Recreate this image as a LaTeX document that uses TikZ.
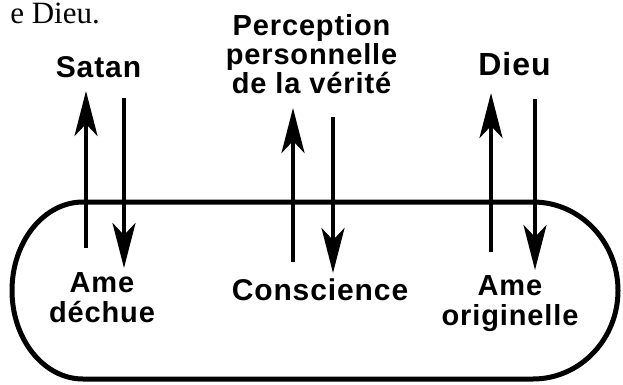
\documentclass[tikz,border=0pt]{standalone}
\usepackage{fontspec}
\setmainfont{Liberation Serif}
\newfontfamily\labfont[LetterSpace=3]{Liberation Sans}
\usetikzlibrary{arrows.meta}
\tikzset{
  lbl/.style={font=\labfont\bfseries\fontsize{29}{30}\selectfont, inner sep=0pt, align=center, anchor=base},
  wide/.style={lbl, font=\labfont\bfseries\fontsize{30}{30}\selectfont},
  head/.style={lbl, font=\labfont\bfseries\fontsize{32}{32}\selectfont},
  prose/.style={font=\rmfamily\fontsize{31}{33}\selectfont, inner sep=0pt, anchor=base east},
  flow/.style={line width=4pt, -{Stealth[length=45pt, width=23pt, inset=12pt]}},
  soul/.style={line width=5pt, line join=round},
}

\begin{document}
\begin{tikzpicture}[x=1pt,y=1pt]
\useasboundingbox (0,0) rectangle (623,384);
\node[prose] (prev) at (100,360) {e Dieu.};
\node[wide] (satan) at (98.5,307) {Satan};
\node[lbl, font=\labfont\bfseries\fontsize{29}{29}\selectfont] (perc) at (311.5,291) {Perception\\personnelle\\de la vérité};
\node[head] (dieu) at (514.5,309) {Dieu};
\node[lbl] (dechue) at (102,62) {Ame\\déchue};
\node[wide] (consc) at (320,84) {Conscience};
\node[lbl] (orig) at (510,59) {Ame\\originelle};
% the soul
\draw[soul] (83,182) -- (533,182) arc[start angle=90, end angle=-90, x radius=85, y radius=88.5]
  -- (83,5) arc[start angle=270, end angle=90, x radius=71, y radius=88.5] -- cycle;
\coordinate (satUp0) at (86,136);   \coordinate (satUp1) at (86,293);
\coordinate (satDn0) at (124,286);  \coordinate (satDn1) at (124,116);
\coordinate (perUp0) at (293,122);  \coordinate (perUp1) at (293,276);
\coordinate (perDn0) at (333,267);  \coordinate (perDn1) at (333,111);
\coordinate (dieUp0) at (491,132);  \coordinate (dieUp1) at (491,291);
\coordinate (dieDn0) at (535,285);  \coordinate (dieDn1) at (535,114);
\draw[flow] (satUp0) -- (satUp1);
\draw[flow] (satDn0) -- (satDn1);
\draw[flow] (perUp0) -- (perUp1);
\draw[flow] (perDn0) -- (perDn1);
\draw[flow] (dieUp0) -- (dieUp1);
\draw[flow] (dieDn0) -- (dieDn1);
\end{tikzpicture}
\end{document}
